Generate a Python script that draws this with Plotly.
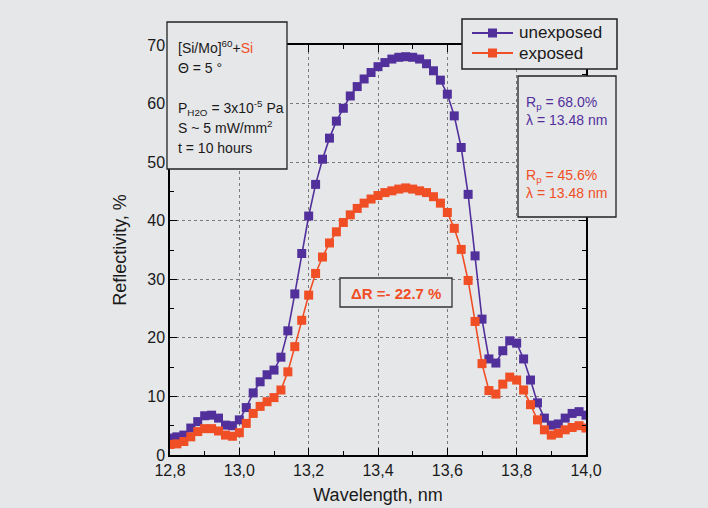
import plotly.graph_objects as go

# ---------------- data ----------------
wavelength = [round(12.80 + 0.02 * i, 2) for i in range(61)]

unexposed = [2.9, 3.1, 3.4, 4.6, 5.7, 6.7, 6.8, 6.3, 5.1, 5.0, 6.0,
             8.1, 10.6, 12.5, 13.7, 14.5, 16.7, 21.2, 27.5, 34.4, 40.8,
             46.2, 50.5, 54.1, 57.0, 59.2, 61.3, 62.9, 64.2, 65.3, 66.3,
             67.0, 67.6, 67.9, 68.0, 67.9, 67.6, 66.8, 65.6, 64.0, 61.6,
             57.9, 52.5, 44.5, 34.0, 23.2, 16.4, 15.7, 17.8, 19.5, 19.1,
             16.4, 12.8, 8.9, 6.3, 5.1, 5.3, 6.3, 7.1, 7.4, 6.8]

exposed = [1.8, 1.9, 2.3, 3.1, 4.0, 4.5, 4.5, 4.1, 3.4, 3.2, 3.8,
           5.4, 7.1, 8.3, 9.1, 9.8, 11.1, 14.2, 18.5, 23.0, 27.3,
           31.0, 33.8, 36.2, 38.1, 39.7, 41.0, 42.1, 43.0, 43.7, 44.3,
           44.8, 45.1, 45.4, 45.6, 45.4, 45.1, 44.8, 44.1, 43.0, 41.4,
           38.7, 35.1, 29.8, 22.8, 15.6, 11.0, 10.4, 12.1, 13.3, 12.8,
           11.1, 8.6, 6.0, 4.3, 3.4, 3.7, 4.3, 4.7, 5.0, 4.6]

series_names = ["unexposed", "exposed"]

x_tickvals = [12.8, 13.0, 13.2, 13.4, 13.6, 13.8, 14.0]
x_ticktext = ["12,8", "13,0", "13,2", "13,4", "13,6", "13,8", "14,0"]
y_tickvals = [0, 10, 20, 30, 40, 50, 60, 70]
y_ticktext = ["0", "10", "20", "30", "40", "50", "60", "70"]

# ---------------- style ----------------
BG = "#e6e7e9"
PURPLE = "#52309c"
ORANGE = "#f04e25"
TXT = "#1a1a1a"
FONT = "Liberation Sans, Arial, sans-serif"

# plot area in pixels: left 170, right 586, top 45, bottom 455
L, R, T, B = 170, 586, 45, 455
W, H = R - L, B - T


def px(x):
    return (x - L) / W


def py(y):
    return (B - y) / H


fig = go.Figure()
for name, vals, col in [(series_names[0], unexposed, PURPLE), (series_names[1], exposed, ORANGE)]:
    fig.add_trace(go.Scatter(
        x=wavelength, y=vals, mode="lines+markers", name=name,
        line=dict(color=col, width=1.6),
        marker=dict(symbol="square", size=9, color=col),
        showlegend=False))

axis_common = dict(
    showline=True, linecolor="black", linewidth=1.5, mirror="ticks",
    ticks="inside", ticklen=7, tickwidth=1.3, tickcolor="black",
    showgrid=True, gridcolor="#7a7a7a", gridwidth=1, griddash="dot",
    zeroline=False,
    tickfont=dict(family=FONT, size=16, color=TXT),
)

fig.update_xaxes(
    range=[12.8, 14.0], tickvals=x_tickvals, ticktext=x_ticktext,
    minor=dict(dtick=0.1, ticks="inside", ticklen=4, tickcolor="black", tickwidth=1.3, showgrid=False),
    title=dict(text="Wavelength, nm", font=dict(family=FONT, size=18, color=TXT), standoff=10),
    **axis_common)
fig.update_yaxes(
    range=[0, 70], tickvals=y_tickvals, ticktext=y_ticktext,
    minor=dict(dtick=5, ticks="inside", ticklen=4, tickcolor="black", tickwidth=1.3, showgrid=False),
    title=dict(text="Reflectivity, %", font=dict(family=FONT, size=18, color=TXT), standoff=16),
    **axis_common)

shapes = []
annotations = []

# legend box (drawn manually for exact row spacing)
shapes.append(dict(type="rect", xref="paper", yref="paper",
                   x0=px(462), x1=px(617), y0=py(69), y1=py(19),
                   line=dict(color="#222", width=1.5), fillcolor=BG, layer="above"))
for i, (name, col) in enumerate([(series_names[0], PURPLE), (series_names[1], ORANGE)]):
    yy = 33 + 20 * i
    shapes.append(dict(type="line", xref="paper", yref="paper",
                       x0=px(472), x1=px(513), y0=py(yy), y1=py(yy),
                       line=dict(color=col, width=1.8), layer="above"))
    shapes.append(dict(type="rect", xref="paper", yref="paper",
                       x0=px(488), x1=px(497), y0=py(yy + 4.5), y1=py(yy - 4.5),
                       line=dict(color=col, width=0), fillcolor=col, layer="above"))
    annotations.append(dict(text=name, xref="paper", yref="paper", x=px(517), y=py(yy),
                            xanchor="left", yanchor="middle", showarrow=False,
                            font=dict(family=FONT, size=17, color=TXT)))

# left info box
shapes.append(dict(type="rect", xref="paper", yref="paper",
                   x0=px(167), x1=px(287), y0=py(169), y1=py(22),
                   line=dict(color="#222", width=1.3), fillcolor=BG, layer="above"))
left_lines = [
    ("[Si/Mo]<sup>60</sup>+<span style='color:%s'>Si</span>" % ORANGE, 47),
    ("Θ = 5 °", 68),
    ("P<sub>H2O</sub> = 3x10<sup>-5</sup> Pa", 108),
    ("S ~ 5 mW/mm<sup>2</sup>", 127),
    ("t = 10 hours", 148),
]
for txt, yy in left_lines:
    annotations.append(dict(text=txt, xref="paper", yref="paper", x=px(176), y=py(yy),
                            xanchor="left", yanchor="middle", showarrow=False,
                            font=dict(family=FONT, size=14, color=TXT)))

# Rp box
shapes.append(dict(type="rect", xref="paper", yref="paper",
                   x0=px(518), x1=px(616), y0=py(217), y1=py(76),
                   line=dict(color="#222", width=1.3), fillcolor=BG, layer="above"))
rp_lines = [
    ("R<sub>p</sub> = 68.0%", 103, PURPLE),
    ("λ = 13.48 nm", 120, PURPLE),
    ("R<sub>p</sub> = 45.6%", 176, ORANGE),
    ("λ = 13.48 nm", 193, ORANGE),
]
for txt, yy, col in rp_lines:
    annotations.append(dict(text=txt, xref="paper", yref="paper", x=px(524), y=py(yy),
                            xanchor="left", yanchor="middle", showarrow=False,
                            font=dict(family=FONT, size=14, color=col)))

# Delta R box
shapes.append(dict(type="rect", xref="paper", yref="paper",
                   x0=px(340), x1=px(452), y0=py(307), y1=py(278),
                   line=dict(color="#333", width=1.3), fillcolor=BG, layer="above"))
annotations.append(dict(text="<b>ΔR =- 22.7 %</b>", xref="paper", yref="paper",
                        x=px(396), y=py(293), xanchor="center", yanchor="middle",
                        showarrow=False, font=dict(family=FONT, size=15, color=ORANGE)))

fig.update_layout(
    width=708, height=508,
    margin=dict(l=L, r=708 - R, t=T, b=508 - B, autoexpand=False),
    paper_bgcolor=BG, plot_bgcolor=BG,
    showlegend=False,
    shapes=shapes, annotations=annotations,
)

fig.write_html("out.html",
               config={"displayModeBar": False},
               post_script="document.body.style.margin='0';document.body.style.background='%s';" % BG)
